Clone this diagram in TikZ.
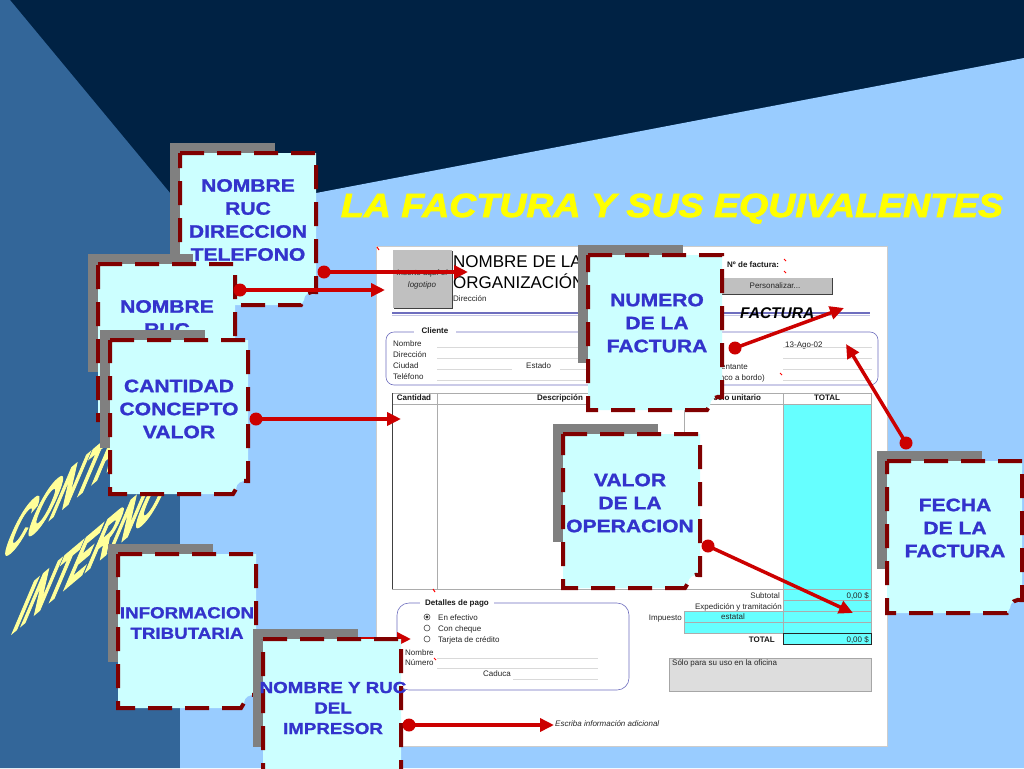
\documentclass[tikz,border=0pt]{standalone}
\usepackage{fontspec}
\setmainfont{Liberation Sans}
\newfontfamily\ctrlfont[FakeBold=4]{Liberation Sans Bold}
\newfontfamily\titlefont[FakeBold=2.2]{Liberation Sans Bold Italic}
\newfontfamily\boxfont[FakeBold=1.2]{Liberation Sans Bold}
\usetikzlibrary{arrows.meta}
\definecolor{navy}{RGB}{0,34,68}
\definecolor{midblue}{RGB}{51,102,153}
\definecolor{lightblue}{RGB}{153,204,255}
\definecolor{boxfill}{RGB}{204,255,255}
\definecolor{boxedge}{RGB}{128,0,0}
\definecolor{arrowred}{RGB}{204,0,0}
\definecolor{boxtext}{RGB}{51,51,204}
\definecolor{shadowgray}{RGB}{128,128,128}
\definecolor{formline}{RGB}{110,110,190}
\definecolor{cellcyan}{RGB}{102,255,255}
\definecolor{titleyellow}{RGB}{255,255,0}
\definecolor{paleyellow}{RGB}{255,255,153}
\definecolor{logogray}{RGB}{192,192,192}
\definecolor{officegray}{RGB}{221,221,221}
\newcommand\wide[1]{\scalebox{1.17}[1]{#1}}
\newcommand\calloutbox[4]{%
  \fill[shadowgray] ({#1-10},{#2-10}) rectangle ({#1+95},{#2+108});
  \path[boxshape] (#1,#2) -- (#3,#2) -- (#3,{#4-13}) .. controls ({#3-6},{#4-14}) and ({#3-12},{#4-11}) .. ({#3-12},{#4-5}) -- ({#3-15},#4) -- (#1,#4) -- cycle;
}
\begin{document}
\begin{tikzpicture}[x=1pt,y=-1pt,
  conn/.style={draw=arrowred, line width=3.5pt, -{Triangle[length=14pt,width=13pt]}},
  dotnode/.style={circle, fill=arrowred, minimum size=13pt, inner sep=0pt},
  boxshape/.style={fill=boxfill, draw=boxedge, line width=4pt, dash pattern=on 24pt off 13pt},
  boxtxt/.style={text=boxtext, font=\fontsize{18}{23}\selectfont\boxfont, align=center, inner sep=0pt},
  boxtxtsm/.style={text=boxtext, font=\fontsize{16}{20.5}\selectfont\boxfont, align=center, inner sep=0pt},
  ft/.style={font=\fontsize{8}{9}\selectfont, inner sep=0pt, text=black!85},
  ftb/.style={font=\fontsize{8}{9}\selectfont\bfseries, inner sep=0pt, text=black!90},
  fti/.style={font=\fontsize{8}{9}\selectfont\itshape, inner sep=0pt, text=black!85},
  tbl/.style={draw=gray!65, line width=0.6pt},
  uline/.style={draw=gray!30, line width=0.5pt},
  redtick/.style={draw=red, line width=1pt},
  ctrl/.style={text=paleyellow, font=\fontsize{42}{46}\selectfont\ctrlfont, inner sep=0pt, anchor=base west, cm={0.766,0.643,0.755,1.78,(0,0)}}
]
\useasboundingbox (0,0) rectangle (1024,768);
% background
\fill[navy] (0,0) rectangle (1024,768);
\fill[midblue] (0,0) -- (10,0) -- (180,205) -- (180,768) -- (0,768) -- cycle;
\fill[lightblue] (180,219) -- (1024,58) -- (1024,768) -- (180,768) -- cycle;

% slanted side text
\begin{scope}[shift={(-1,562)}]
  \node[ctrl] (ctrl1) at (0,0) {CONTROL};
\end{scope}
\begin{scope}[shift={(10,635)}]
  \node[ctrl] (ctrl2) at (0,0) {INTERNO};
\end{scope}

% title
\node[text=titleyellow, font=\fontsize{33.5}{36}\selectfont\titlefont, inner sep=0pt, anchor=base] (title) at (672,217) {\scalebox{1.12}[1]{LA FACTURA Y SUS EQUIVALENTES}};

% ================= invoice form =================
\fill[white] (376,246) rectangle (887,746);
\draw[gray!40, line width=0.5pt] (376,246) rectangle (887,746);
\draw[redtick] (377,247) -- (379,250);
% logo
\fill[logogray] (393,250) rectangle (452,308);
\draw[gray!50!black, line width=1pt] (452,251) -- (452,308) -- (394,308);
\node[fti] (logo1) at (422,273) {Inserte aquí el};
\node[fti] (logo2) at (422,285) {logotipo};
\node[font=\fontsize{17}{19}\selectfont, inner sep=0pt, anchor=base west] (org1) at (453,267) {NOMBRE DE LA};
\node[font=\fontsize{17}{19}\selectfont, inner sep=0pt, anchor=base west] (org2) at (453,288) {ORGANIZACIÓN};
\node[ft, anchor=base west] (dir) at (453,301) {Dirección};
\node[ftb, anchor=base west] (nfact) at (727,267) {Nº de factura:};
\draw[redtick] (784,259) -- (786,261);
\draw[redtick] (784,271) -- (786,273);
\fill[logogray] (718,278) rectangle (832,294);
\draw[gray!50!black, line width=0.8pt] (832,278) -- (832,294) -- (718,294);
\node[ft] (pers) at (775,286) {Personalizar...};
\draw[formline, line width=1.4pt] (392,313) -- (870,313);
\draw[formline!40, line width=0.6pt] (392,315.5) -- (870,315.5);
\node[font=\fontsize{15.5}{17}\selectfont\bfseries\itshape, inner sep=0pt, anchor=base west] (factura) at (740,318) {FACTURA};
% cliente block
\draw[formline, line width=0.6pt, rounded corners=8pt] (386,332) rectangle (878,385);
\node[ftb, fill=white, inner xsep=8pt, inner ysep=1pt] (cliente) at (435,331) {Cliente};
\node[ft, anchor=base west] (cNombre) at (393,346) {Nombre};
\node[ft, anchor=base west] (cDir) at (393,357) {Dirección};
\node[ft, anchor=base west] (cCiudad) at (393,368) {Ciudad};
\node[ft, anchor=base west] (cTel) at (393,379) {Teléfono};
\node[ft, anchor=base west] (cEstado) at (526,368) {Estado};
\draw[uline] (437,347) -- (720,347);
\draw[uline] (437,358) -- (720,358);
\draw[uline] (437,369) -- (512,369);
\draw[uline] (560,369) -- (720,369);
\draw[uline] (437,380) -- (720,380);
\node[ft, anchor=base west] (cFecha) at (785,347) {13-Ago-02};
\node[ft, anchor=base east] (cRep) at (748,369) {Representante};
\node[ft, anchor=base east] (cFob) at (765,380) {(franco a bordo)};
\draw[uline] (783,347) -- (872,347);
\draw[uline] (783,358) -- (872,358);
\draw[uline] (783,369) -- (872,369);
\draw[uline] (783,380) -- (872,380);
\draw[redtick] (780,373) -- (782,375);
% table
\fill[cellcyan] (783,404) rectangle (871,589);
\draw[tbl] (392,393) rectangle (871,404);
\draw[tbl] (392,404) rectangle (871,589);
\draw[gray!50!black, line width=0.8pt] (392,393) -- (392,589);
\foreach \xx in {437,684,783} \draw[tbl] (\xx,393) -- (\xx,589);
\node[ftb] (hCant) at (414,398) {Cantidad};
\node[ftb] (hDesc) at (560,398) {Descripción};
\node[ftb] (hPrec) at (733,398) {Precio unitario};
\node[ftb] (hTot) at (827,398) {TOTAL};
\draw[redtick] (433,589) -- (435,592);
% summary
\fill[cellcyan] (783,589) rectangle (871,644);
\fill[cellcyan] (684,611) rectangle (783,633);
\draw[tbl] (783,589) rectangle (871,644);
\draw[tbl] (783,600) -- (871,600);
\draw[tbl] (684,611) -- (871,611);
\draw[tbl] (684,622) -- (871,622);
\draw[tbl] (684,633) -- (871,633);
\draw[tbl] (684,611) -- (684,633);
\draw[gray!30!black, line width=1pt] (783,633) rectangle (871,644);
\node[ft, anchor=base east] (sSub) at (780,598) {Subtotal};
\node[ft, anchor=base east] (sSubV) at (869,598) {0,00 \$};
\node[ft, anchor=base east] (sExp) at (782,609) {Expedición y tramitación};
\node[ft, anchor=base east] (sImp) at (682,620) {Impuesto};
\node[ft] (sEst) at (733,617) {estatal};
\node[ftb, anchor=base east] (sTot) at (775,642) {TOTAL};
\node[ft, anchor=base east] (sTotV) at (869,642) {0,00 \$};
% payment details
\draw[formline, line width=0.6pt, rounded corners=12pt] (397,603) rectangle (629,690);
\node[ftb, fill=white, inner xsep=5pt, inner ysep=1pt] (detalles) at (457,603) {Detalles de pago};
\draw[gray!60!black, line width=0.6pt] (427,617) circle (3pt);
\fill[black!80] (427,617) circle (1.6pt);
\draw[gray!60!black, line width=0.6pt] (427,628) circle (3pt);
\draw[gray!60!black, line width=0.6pt] (427,639) circle (3pt);
\node[ft, anchor=base west] (pEf) at (438,620) {En efectivo};
\node[ft, anchor=base west] (pCh) at (438,631) {Con cheque};
\node[ft, anchor=base west] (pTj) at (438,642) {Tarjeta de crédito};
\node[ft, anchor=base west] (pNom) at (405,655) {Nombre};
\node[ft, anchor=base west] (pNum) at (405,665) {Número};
\draw[redtick] (434,658) -- (436,660);
\draw[uline] (437,658) -- (598,658);
\draw[uline] (437,668) -- (598,668);
\node[ft] (pCad) at (497,674) {Caduca};
\draw[uline] (513,679) -- (598,679);
% office box
\fill[officegray] (669,658) rectangle (871,691);
\draw[gray!70, line width=0.6pt] (669,658) rectangle (871,691);
\node[ft, anchor=base west] (office) at (672,665) {Sólo para su uso en la oficina};
\node[fti, anchor=base west] (adic) at (555,726) {Escriba información adicional};

% ================= callout boxes =================
\calloutbox{180}{153}{316}{305}
\node[boxtxt] (b1) at (248,220) {\wide{NOMBRE}\\\wide{RUC}\\\wide{DIRECCION}\\\wide{TELEFONO}};
\calloutbox{98}{264}{235}{420}
\node[boxtxt] (b2) at (167,318) {\wide{NOMBRE}\\\wide{RUC}};
\node[dotnode] (d1) at (324,272) {};
\coordinate (t1) at (468,272);
\draw[conn] (d1.center) -- (t1);
\node[dotnode] (d2) at (240,290) {};
\coordinate (t2) at (385,290);
\draw[conn] (d2.center) -- (t2);

\calloutbox{110}{340}{248}{494}
\node[boxtxt] (b3) at (179,409) {\wide{CANTIDAD}\\\wide{CONCEPTO}\\\wide{VALOR}};
\node[dotnode] (d3) at (256,419) {};
\coordinate (t3) at (401,419);
\draw[conn] (d3.center) -- (t3);

\calloutbox{118}{554}{256}{708}
\node[boxtxtsm] (b4) at (187,623) {\wide{INFORMACION}\\\wide{TRIBUTARIA}};
\node[dotnode] (d4) at (262,639) {};
\coordinate (t4) at (411,639);
\draw[conn] (d4.center) -- (t4);

\calloutbox{263}{639}{401}{800}
\node[boxtxtsm] (b5) at (333,708) {\wide{NOMBRE Y RUC}\\\wide{DEL}\\\wide{IMPRESOR}};
\node[dotnode] (d5) at (409,725) {};
\coordinate (t5) at (554,725);
\draw[conn] (d5.center) -- (t5);

\calloutbox{588}{255}{722}{410}
\node[boxtxt] (b6) at (657,323) {\wide{NUMERO}\\\wide{DE LA}\\\wide{FACTURA}};
\node[dotnode] (d6) at (735,348) {};
\coordinate (t6) at (844,308);
\draw[conn] (d6.center) -- (t6);

\calloutbox{563}{434}{700}{588}
\node[boxtxt] (b7) at (630,503) {\wide{VALOR}\\\wide{DE LA}\\\wide{OPERACION}};
\node[dotnode] (d7) at (708,546) {};
\coordinate (t7) at (853,613);
\draw[conn] (d7.center) -- (t7);

\calloutbox{887}{461}{1022}{613}
\node[boxtxt] (b8) at (955,528) {\wide{FECHA}\\\wide{DE LA}\\\wide{FACTURA}};
\node[dotnode] (d8) at (906,443) {};
\coordinate (t8) at (846,344);
\draw[conn] (d8.center) -- (t8);
\end{tikzpicture}
\end{document}
